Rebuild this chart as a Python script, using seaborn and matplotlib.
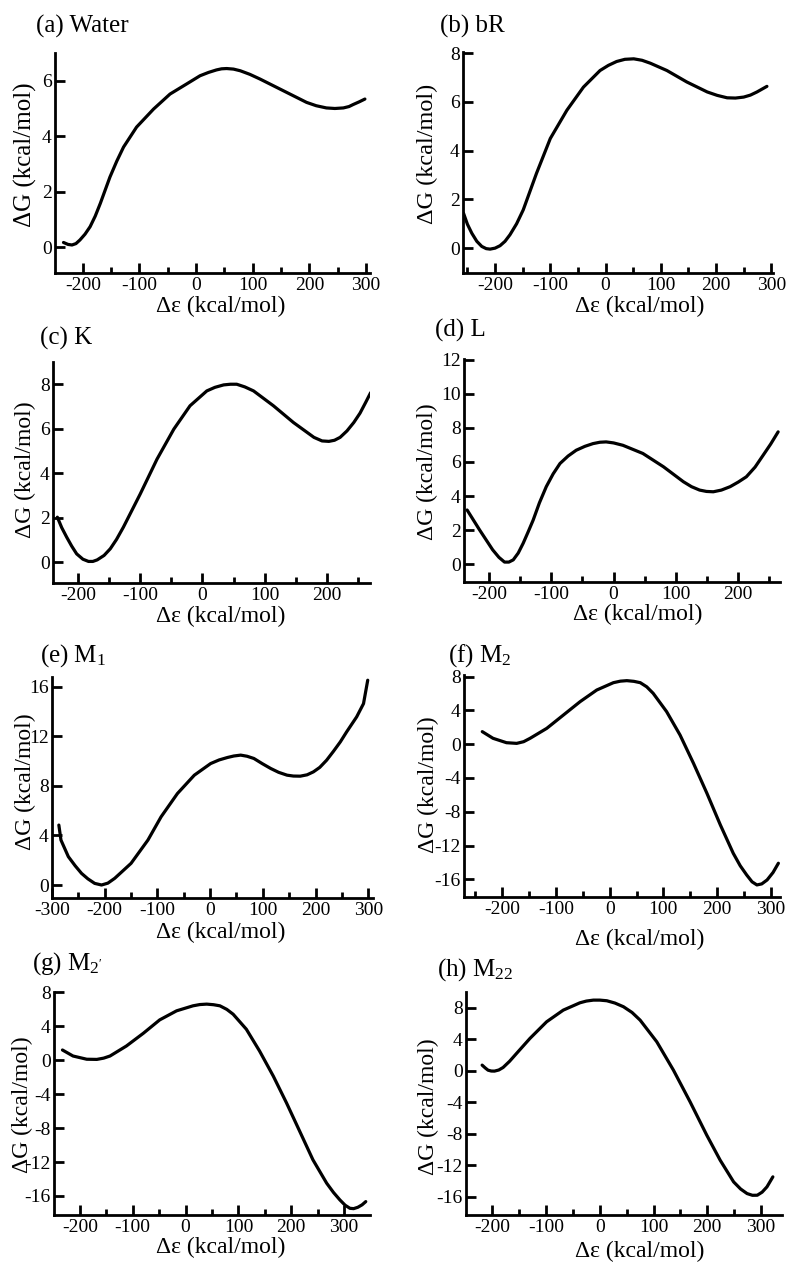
import numpy as np
import pandas as pd
import matplotlib
matplotlib.use("Agg")
import matplotlib.pyplot as plt
import seaborn as sns
from matplotlib.ticker import MultipleLocator

# Free-energy profiles
water_x = [-234, -226, -219, -212, -205, -196, -187, -178, -169, -152, -140, -128, -105, -75, -46, -17, 7, 22, 36, 45, 54, 66, 78, 95, 113, 154, 195, 212, 230, 245, 260, 270, 277, 288, 298]
water_y = [0.17, 0.10, 0.08, 0.13, 0.26, 0.47, 0.74, 1.12, 1.58, 2.53, 3.10, 3.61, 4.33, 4.98, 5.52, 5.88, 6.18, 6.30, 6.39, 6.43, 6.44, 6.42, 6.36, 6.23, 6.06, 5.64, 5.22, 5.10, 5.02, 5.00, 5.02, 5.07, 5.14, 5.24, 5.34]

br_x = [-257, -250, -242, -233, -224, -216, -209, -200, -191, -182, -173, -161, -149, -125, -100, -70, -40, -10, 5, 20, 35, 51, 66, 81, 111, 147, 184, 202, 220, 235, 250, 262, 274, 292]
br_y = [1.43, 0.98, 0.61, 0.28, 0.07, -0.02, -0.04, 0.00, 0.10, 0.28, 0.55, 1.00, 1.57, 3.07, 4.50, 5.66, 6.61, 7.29, 7.50, 7.66, 7.75, 7.77, 7.71, 7.59, 7.29, 6.82, 6.41, 6.27, 6.17, 6.16, 6.20, 6.28, 6.41, 6.64]

k_x = [-233, -226, -218, -210, -202, -192, -183, -176, -169, -158, -148, -138, -127, -100, -73, -46, -20, 7, 20, 34, 45, 55, 68, 82, 114, 146, 179, 192, 203, 212, 221, 232, 243, 253, 262, 270]
k_y = [2.02, 1.55, 1.12, 0.72, 0.37, 0.13, 0.03, 0.03, 0.10, 0.30, 0.60, 1.02, 1.57, 3.06, 4.63, 5.98, 7.03, 7.70, 7.86, 7.97, 8.00, 8.00, 7.88, 7.70, 7.03, 6.28, 5.61, 5.45, 5.43, 5.48, 5.61, 5.90, 6.28, 6.70, 7.18, 7.62]

l_x = [-235, -215, -194, -184, -175, -168, -161, -153, -145, -137, -129, -119, -108, -97, -86, -73, -60, -46, -33, -22, -12, 0, 15, 47, 80, 112, 125, 138, 149, 160, 173, 187, 200, 213, 227, 240, 252, 264]
l_y = [3.18, 2.01, 0.84, 0.40, 0.12, 0.12, 0.25, 0.65, 1.23, 1.90, 2.59, 3.60, 4.55, 5.30, 5.91, 6.35, 6.69, 6.92, 7.08, 7.16, 7.18, 7.12, 6.98, 6.50, 5.72, 4.84, 4.55, 4.35, 4.27, 4.25, 4.35, 4.55, 4.82, 5.13, 5.70, 6.40, 7.05, 7.77]

m1_x = [-287, -283, -269, -256, -244, -232, -219, -206, -194, -181, -150, -118, -93, -62, -30, 1, 17, 33, 45, 58, 70, 83, 99, 115, 130, 146, 158, 171, 184, 196, 208, 221, 234, 247, 259, 278, 291, 299]
m1_y = [4.84, 3.63, 2.29, 1.55, 0.94, 0.50, 0.13, 0.00, 0.15, 0.54, 1.75, 3.63, 5.51, 7.39, 8.87, 9.81, 10.10, 10.30, 10.42, 10.49, 10.40, 10.22, 9.80, 9.41, 9.10, 8.87, 8.80, 8.79, 8.90, 9.14, 9.50, 10.08, 10.80, 11.56, 12.37, 13.58, 14.65, 16.54]

m2_x = [-237, -217, -192, -173, -160, -148, -117, -86, -55, -24, 7, 20, 32, 45, 57, 69, 81, 106, 131, 156, 181, 206, 230, 243, 255, 265, 274, 283, 293, 304, 314]
m2_y = [1.49, 0.70, 0.18, 0.10, 0.30, 0.70, 1.88, 3.46, 5.04, 6.42, 7.29, 7.47, 7.53, 7.45, 7.29, 6.80, 6.03, 3.86, 1.09, -2.26, -5.81, -9.56, -12.92, -14.40, -15.49, -16.30, -16.67, -16.55, -16.08, -15.20, -14.10]

m2p_x = [-233, -213, -187, -168, -155, -143, -112, -80, -49, -17, 14, 27, 40, 53, 65, 78, 90, 115, 140, 166, 191, 216, 241, 267, 280, 292, 302, 311, 318, 326, 334, 341]
m2p_y = [1.21, 0.50, 0.12, 0.10, 0.25, 0.50, 1.68, 3.18, 4.76, 5.83, 6.42, 6.57, 6.62, 6.55, 6.42, 6.00, 5.43, 3.66, 1.09, -1.87, -5.03, -8.38, -11.74, -14.50, -15.60, -16.47, -17.10, -17.46, -17.50, -17.34, -17.05, -16.67]

m22_x = [-219, -213, -208, -202, -196, -188, -180, -168, -155, -130, -99, -68, -37, -25, -12, 0, 13, 28, 44, 60, 75, 106, 137, 168, 199, 224, 249, 262, 274, 284, 293, 302, 311, 322]
m22_y = [0.72, 0.35, 0.08, -0.03, -0.04, 0.10, 0.42, 1.20, 2.20, 4.11, 6.22, 7.70, 8.63, 8.85, 8.97, 8.97, 8.89, 8.60, 8.13, 7.40, 6.43, 3.68, 0.08, -3.94, -8.17, -11.35, -14.10, -15.00, -15.58, -15.80, -15.79, -15.40, -14.73, -13.46]

panel_titles = ["(a) Water", "(b) bR", "(c) K", "(d) L",
                "(e) M$_1$", "(f) M$_2$", "(g) M$_{2'}$", "(h) M$_{22}$"]
curves = [(water_x, water_y), (br_x, br_y), (k_x, k_y), (l_x, l_y),
          (m1_x, m1_y), (m2_x, m2_y), (m2p_x, m2p_y), (m22_x, m22_y)]

x_major = [list(range(-200, 301, 100))] * 2 + [list(range(-200, 201, 100))] * 2 \
    + [list(range(-300, 301, 100))] + [list(range(-200, 301, 100))] * 3
y_major = [[0, 2, 4, 6], [0, 2, 4, 6, 8], [0, 2, 4, 6, 8], [0, 2, 4, 6, 8, 10, 12],
           [0, 4, 8, 12, 16], [-16, -12, -8, -4, 0, 4, 8], [-16, -12, -8, -4, 0, 4, 8],
           [-16, -12, -8, -4, 0, 4, 8]]

# layout in pixels: axes box (left, right, top, bottom), limits, text anchors
W, H = 800, 1274
layout = [
    dict(box=(55, 370, 53, 273), xlim=(-249, 307), ylim=(-0.93, 7.0), title=(36, 33), xl=(221, 306), yl=(25, 155), ylfs=18),
    dict(box=(463, 773, 52, 273), xlim=(-258, 303), ylim=(-1.02, 8.05), title=(440, 33), xl=(640, 306), yl=(427, 154), ylfs=17.5),
    dict(box=(53, 370, 362, 583), xlim=(-240, 269), ylim=(-0.94, 9.0), title=(40, 345), xl=(221, 616), yl=(25, 470), ylfs=17),
    dict(box=(464, 780, 359, 582), xlim=(-240, 267), ylim=(-1.05, 12.05), title=(435, 337), xl=(638, 614), yl=(427, 472), ylfs=17),
    dict(box=(52, 373, 677, 898), xlim=(-300, 309), ylim=(-1.05, 16.8), title=(40, 662), xl=(221, 932), yl=(25, 782), ylfs=17),
    dict(box=(464, 780, 675, 897), xlim=(-271, 317), ylim=(-18.1, 8.2), title=(448, 662), xl=(640, 939), yl=(428, 785), ylfs=17),
    dict(box=(54, 370, 992, 1215), xlim=(-249, 349), ylim=(-18.25, 8.05), title=(32, 970), xl=(221, 1247), yl=(22, 1105), ylfs=17),
    dict(box=(466, 782, 992, 1215), xlim=(-249, 339), ylim=(-18.3, 10.0), title=(437, 976), xl=(640, 1251), yl=(428, 1107), ylfs=17),
]

sns.set_theme(style="ticks")
plt.rcParams["font.family"] = ["Liberation Serif", "DejaVu Serif"]
plt.rcParams["mathtext.fontset"] = "custom"
plt.rcParams["mathtext.rm"] = "Liberation Serif"
plt.rcParams["mathtext.it"] = "Liberation Serif:italic"
plt.rcParams["mathtext.default"] = "regular"
plt.rcParams["axes.unicode_minus"] = False

fig = plt.figure(figsize=(W / 100, H / 100), dpi=100)

for i, spec in enumerate(layout):
    L, R, T, B = spec["box"]
    ax = fig.add_axes([L / W, 1 - B / H, (R - L) / W, (B - T) / H])
    df = pd.DataFrame({"x": curves[i][0], "y": curves[i][1]})
    sns.lineplot(data=df, x="x", y="y", ax=ax, sort=False, color="black", linewidth=2.3)
    for ln in ax.lines:
        ln.set_solid_joinstyle("round")
        ln.set_solid_capstyle("round")

    ax.set_xlim(*spec["xlim"])
    ax.set_ylim(*spec["ylim"])
    ax.set_xticks(x_major[i])
    ax.xaxis.set_minor_locator(MultipleLocator(50))
    ax.set_yticks(y_major[i])

    for s in ["top", "right"]:
        ax.spines[s].set_visible(False)
    for s in ["left", "bottom"]:
        ax.spines[s].set_linewidth(2.0)
        ax.spines[s].set_color("black")

    ax.tick_params(axis="x", which="major", direction="in", length=7.5, width=2, pad=3, labelsize=14, colors="black")
    ax.tick_params(axis="x", which="minor", direction="in", length=4.5, width=2, colors="black")
    ax.tick_params(axis="y", which="major", direction="in", length=7.5, width=2, pad=2.5, labelsize=14, colors="black")

    # axis labels placed in figure pixels
    fx = lambda px: (px - L) / (R - L)
    fy = lambda py: (B - py) / (B - T)
    ax.set_xlabel("Δε (kcal/mol)", fontsize=17, va="center", color="black")
    ax.xaxis.set_label_coords(fx(spec["xl"][0]), fy(spec["xl"][1]))
    ax.set_ylabel("ΔG (kcal/mol)", fontsize=spec["ylfs"], va="center", color="black")
    ax.yaxis.set_label_coords(fx(spec["yl"][0]), fy(spec["yl"][1]))

    tx, ty = spec["title"]
    fig.text(tx / W, 1 - ty / H, panel_titles[i], fontsize=18, ha="left", va="baseline", color="black")

fig.savefig("out.png", dpi=100, facecolor="white")
